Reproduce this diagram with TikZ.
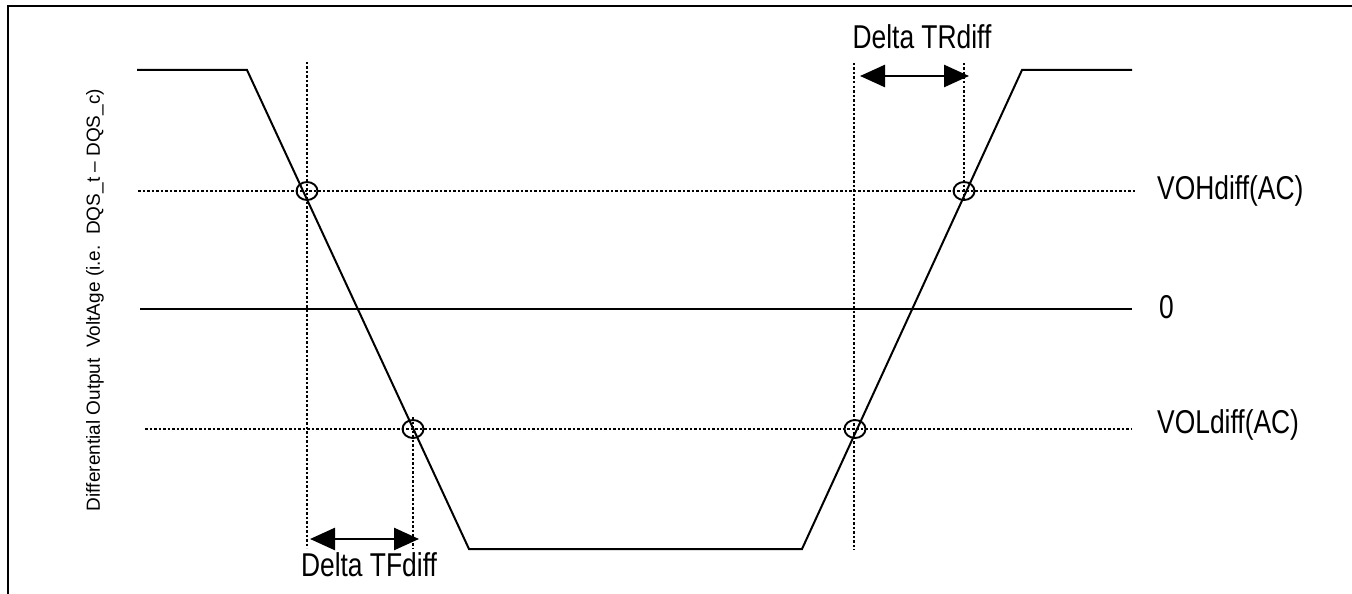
\documentclass[tikz,border=0pt]{standalone}
\usepackage{fontspec}
\setmainfont{Liberation Sans}
\newfontfamily\narrowfont[FakeStretch=0.8]{Liberation Sans}
\usetikzlibrary{arrows.meta}

\begin{document}
\begin{tikzpicture}[x=1pt,y=-1pt,
	wave_line/.style={line width=2pt,line join=miter},
	dot_line/.style={line width=1.5pt,dash pattern=on 2.5pt off 2pt},
	ring/.style={line width=1.9pt},
	span_arrow/.style={line width=2.6pt,{Triangle[length=25pt,width=22pt]}-{Triangle[length=25pt,width=22pt]}},
	level_label/.style={anchor=west,inner sep=0pt,font=\narrowfont\fontsize{33}{36}\selectfont}]

		\useasboundingbox (0,0) rectangle (1352,594);
		\draw[line width=2.6pt] (8,594) -- (8,6) -- (1352,6);

		\coordinate (hi_l) at (137,70);
		\coordinate (fall_top) at (247,70);
		\coordinate (fall_bot) at (469,549);
		\coordinate (rise_bot) at (802,549);
		\coordinate (rise_top) at (1022,70);
		\coordinate (hi_r) at (1132,70);

		\coordinate (voh_a) at (138,191);
		\coordinate (voh_b) at (1135,191);
		\coordinate (zero_a) at (140,309);
		\coordinate (zero_b) at (1132,309);
		\coordinate (vol_a) at (145,429);
		\coordinate (vol_b) at (1132,429);

		\coordinate (tf_1) at (307,191);
		\coordinate (tf_2) at (413,429);
		\coordinate (tr_1) at (855,429);
		\coordinate (tr_2) at (964,191);

		\draw[wave_line] (hi_l) -- (fall_top) -- (fall_bot) -- (rise_bot) -- (rise_top) -- (hi_r);
		\draw[wave_line] (zero_a) -- (zero_b);
		\draw[dot_line] (voh_a) -- (voh_b);
		\draw[dot_line] (vol_a) -- (vol_b);

		\draw[dot_line] (307,62) -- (307,548);
		\draw[dot_line] (413,417) -- (413,548);
		\draw[dot_line] (854,63) -- (854,550);
		\draw[dot_line] (964,63) -- (964,200);

		\foreach \p in {tf_1,tf_2,tr_1,tr_2}
			\draw[ring] (\p) ellipse [x radius=10.5pt,y radius=9pt];

		\coordinate (tf_from) at (310,539);
		\coordinate (tf_to) at (419,539);
		\coordinate (tr_from) at (860,76);
		\coordinate (tr_to) at (969,76);
		\draw[span_arrow] (tf_from) -- (tf_to);
		\draw[span_arrow] (tr_from) -- (tr_to);

		\node[level_label,anchor=center] (tf_text) at (369,565) {Delta TFdiff};
		\node[level_label,anchor=center] (tr_text) at (922,37) {Delta TRdiff};
		\node[level_label] (voh_text) at (1157,191) {VOHdiff(AC)};
		\node[level_label] (zero_text) at (1159,307) {0};
		\node[level_label] (vol_text) at (1157,425) {VOLdiff(AC)};

		\node[rotate=90,inner sep=0pt,font=\fontsize{19}{21}\selectfont] (axis_text) at (95,300)
			{Differential Output\ \ VoltAge (i.e.\ \ DQS\_t -- DQS\_c)};
\end{tikzpicture}
\end{document}
